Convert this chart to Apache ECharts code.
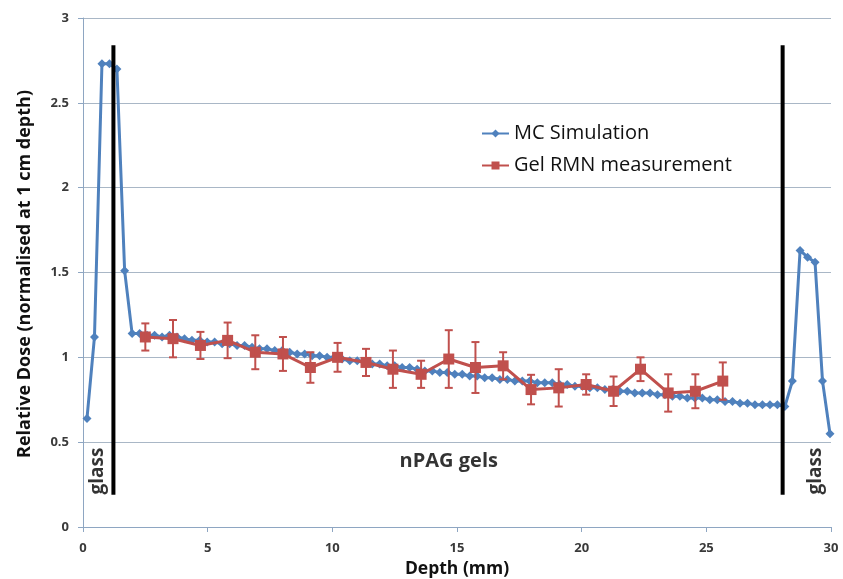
<!DOCTYPE html>
<html>
<head>
<meta charset="utf-8">
<script src="https://cdn.jsdelivr.net/npm/echarts@6/dist/echarts.min.js"></script>
<style>
  html, body { margin: 0; padding: 0; background: #fff; }
  #chart { width: 843px; height: 579px; }
</style>
</head>
<body>
<div id="chart"></div>
<script>
  // MC simulation depth (mm) and relative dose
  const mcDepth = [
    0.16, 0.46, 0.76, 1.06, 1.36, 1.67, 1.97, 2.27, 2.57, 2.87,
    3.17, 3.47, 3.77, 4.07, 4.37, 4.68, 4.98, 5.28, 5.58, 5.88,
    6.18, 6.48, 6.78, 7.08, 7.38, 7.69, 7.99, 8.29, 8.59, 8.89,
    9.19, 9.49, 9.79, 10.09, 10.39, 10.70, 11.00, 11.30, 11.60, 11.90,
    12.20, 12.50, 12.80, 13.10, 13.40, 13.71, 14.01, 14.31, 14.61, 14.91,
    15.21, 15.51, 15.81, 16.11, 16.41, 16.72, 17.02, 17.32, 17.62, 17.92,
    18.22, 18.52, 18.82, 19.12, 19.42, 19.73, 20.03, 20.33, 20.63, 20.93,
    21.23, 21.53, 21.83, 22.13, 22.43, 22.74, 23.04, 23.34, 23.64, 23.94,
    24.24, 24.54, 24.84, 25.14, 25.44, 25.75, 26.05, 26.35, 26.65, 26.95,
    27.25, 27.55, 27.85, 28.15, 28.45, 28.76, 29.06, 29.36, 29.66, 29.96
  ]
  const mcDose = [
    0.64, 1.12, 2.73, 2.73, 2.70, 1.51, 1.14, 1.14, 1.13, 1.13,
    1.12, 1.13, 1.12, 1.11, 1.10, 1.10, 1.09, 1.09, 1.08, 1.08,
    1.07, 1.07, 1.06, 1.05, 1.05, 1.04, 1.04, 1.03, 1.02, 1.02,
    1.01, 1.01, 1.00, 1.00, 0.99, 0.98, 0.98, 0.97, 0.96, 0.96,
    0.95, 0.95, 0.94, 0.94, 0.93, 0.92, 0.92, 0.91, 0.91, 0.90,
    0.90, 0.89, 0.89, 0.88, 0.88, 0.87, 0.87, 0.86, 0.86, 0.86,
    0.85, 0.85, 0.85, 0.84, 0.84, 0.83, 0.83, 0.82, 0.82, 0.81,
    0.81, 0.80, 0.80, 0.79, 0.79, 0.79, 0.78, 0.78, 0.77, 0.77,
    0.76, 0.76, 0.76, 0.75, 0.75, 0.74, 0.74, 0.73, 0.73, 0.72,
    0.72, 0.72, 0.72, 0.71, 0.86, 1.63, 1.59, 1.56, 0.86, 0.55
  ]

  // Gel RMN measurement
  const gelDepth = [2.50, 3.61, 4.71, 5.80, 6.91, 8.02, 9.12, 10.21, 11.35, 12.43, 13.56,
    14.67, 15.74, 16.85, 17.97, 19.08, 20.18, 21.28, 22.36, 23.47, 24.56, 25.66]
  const gelDose = [1.12, 1.11, 1.07, 1.10, 1.03, 1.02, 0.94, 1.00, 0.97, 0.93, 0.90,
    0.99, 0.94, 0.95, 0.81, 0.82, 0.84, 0.80, 0.93, 0.79, 0.80, 0.86]
  const gelErr = [0.08, 0.11, 0.08, 0.105, 0.10, 0.10, 0.09, 0.085, 0.08, 0.11, 0.08,
    0.17, 0.15, 0.08, 0.087, 0.11, 0.06, 0.087, 0.07, 0.11, 0.10, 0.11]

  // glass boundaries (mm) and the dose span of the black lines
  const glassEdges = [1.22, 28.06]
  const edgeSpan = [0.19, 2.84]

  // text notes placed in data space
  const notes = [
    {text: 'glass', pos: [0.6, 0.33], rotate: 90, size: 19},
    {text: 'nPAG gels', pos: [14.67, 0.39], rotate: 0, size: 20},
    {text: 'glass', pos: [29.4, 0.33], rotate: 90, size: 19}
  ]

  const FONT = 'Open Sans'
  const blue = '#4F81BD'
  const red = '#C0504D'
  const gridColor = '#a9b7c6'

  const chart = echarts.init(document.getElementById('chart'))

  const mcData = mcDepth.map((d, i) => [d, mcDose[i]])
  const gelData = gelDepth.map((d, i) => [d, gelDose[i]])
  const errData = gelDepth.map((d, i) => [d, gelDose[i] - gelErr[i], gelDose[i] + gelErr[i]])

  const edgeSeries = glassEdges.map(x => ({
    type: 'line',
    silent: true,
    symbol: 'none',
    z: 10,
    lineStyle: {color: '#000', width: 4},
    data: [[x, edgeSpan[0]], [x, edgeSpan[1]]]
  }))

  chart.setOption({
    animation: false,
    grid: {left: 83, right: 12, top: 18, bottom: 52, containLabel: false, outerBoundsMode: 'none'},
    legend: {
      orient: 'vertical',
      left: 476,
      top: 117,
      itemGap: 9,
      itemWidth: 27,
      itemHeight: 10,
      data: ['MC Simulation', 'Gel RMN measurement'],
      textStyle: {fontFamily: FONT, fontSize: 20, color: '#111', lineHeight: 23}
    },
    graphic: [{
      type: 'text',
      x: 25,
      y: 274,
      rotation: Math.PI / 2,
      style: {
        text: 'Relative Dose (normalised at 1 cm depth)',
        font: 'bold 18px "Open Sans"',
        fill: '#111',
        textAlign: 'center',
        textVerticalAlign: 'middle'
      }
    }],
    xAxis: {
      type: 'value',
      min: 0,
      max: 30,
      interval: 5,
      name: 'Depth (mm)',
      nameLocation: 'middle',
      nameGap: 33,
      nameTextStyle: {fontFamily: FONT, fontSize: 17.5, fontWeight: 'bold', color: '#111'},
      axisLine: {lineStyle: {color: '#8ea6c2', width: 1}},
      axisTick: {show: true, length: 5, lineStyle: {color: '#8ea6c2'}},
      axisLabel: {fontFamily: FONT, fontSize: 13, fontWeight: 'bold', color: '#3a3a3a', margin: 15},
      splitLine: {show: false}
    },
    yAxis: {
      type: 'value',
      min: 0,
      max: 3,
      interval: 0.5,
      axisLine: {show: true, lineStyle: {color: '#8ea6c2', width: 1}},
      axisTick: {show: true, length: 5, lineStyle: {color: '#8ea6c2'}},
      axisLabel: {fontFamily: FONT, fontSize: 13, fontWeight: 'bold', color: '#3a3a3a', margin: 14},
      splitLine: {show: true, lineStyle: {color: gridColor, width: 1}}
    },
    series: [
      {
        name: 'MC Simulation',
        type: 'line',
        data: mcData,
        color: blue,
        symbol: 'diamond',
        symbolSize: 9,
        lineStyle: {width: 3},
        z: 3
      },
      {
        name: 'Gel RMN measurement',
        type: 'line',
        data: gelData,
        color: red,
        symbol: 'rect',
        symbolSize: 11,
        lineStyle: {width: 3},
        z: 5
      },
      {
        type: 'custom',
        silent: true,
        z: 6,
        data: errData,
        renderItem(params, api) {
          const x = api.value(0)
          const lo = api.coord([x, api.value(1)])
          const hi = api.coord([x, api.value(2)])
          const cap = 4
          const style = {stroke: red, lineWidth: 2}
          return {
            type: 'group',
            children: [
              {type: 'line', shape: {x1: lo[0], y1: lo[1], x2: hi[0], y2: hi[1]}, style},
              {type: 'line', shape: {x1: lo[0] - cap, y1: lo[1], x2: lo[0] + cap, y2: lo[1]}, style},
              {type: 'line', shape: {x1: hi[0] - cap, y1: hi[1], x2: hi[0] + cap, y2: hi[1]}, style}
            ]
          }
        }
      },
      ...edgeSeries,
      {
        type: 'scatter',
        silent: true,
        symbolSize: 0,
        z: 12,
        data: notes.map(n => ({
          value: n.pos,
          label: {
            show: true,
            position: 'inside',
            formatter: n.text,
            rotate: n.rotate,
            fontFamily: FONT,
            fontSize: n.size,
            fontWeight: 'bold',
            color: '#000'
          }
        }))
      }
    ]
  })
</script>
</body>
</html>
